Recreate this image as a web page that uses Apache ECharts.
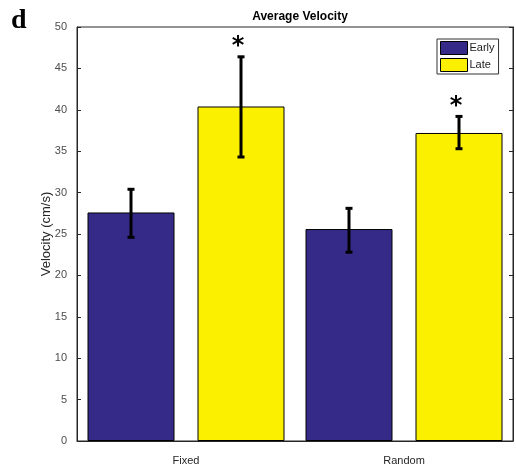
<!DOCTYPE html>
<html><head><meta charset="utf-8">
<script src="https://cdn.jsdelivr.net/npm/echarts@6/dist/echarts.min.js"></script>
<style>html,body{margin:0;padding:0;background:#fff}#c{width:516px;height:472px}</style>
</head><body><div id="c"></div>
<script>
var categories = ['Fixed', 'Random'];
var seriesNames = ['Early', 'Late'];
var earlyMean = [27.6, 25.6];
var earlyLow = [24.6, 22.8];
var earlyHigh = [30.4, 28.1];
var lateMean = [40.4, 37.2];
var lateLow = [34.3, 35.3];
var lateHigh = [46.4, 39.2];
var lateSignificant = [true, true];
var yTicks = [0, 5, 10, 15, 20, 25, 30, 35, 40, 45, 50];

var colors = ['#352a87', '#fbf000'];
var BAR_W = 87, GAP = 23;

function errSeries(low, high, sig, side) {
  var data = categories.map(function (c, i) { return [i, low[i], high[i], sig ? (sig[i] ? 1 : 0) : 0]; });
  return {
    type: 'custom', z: 10, silent: true,
    data: data,
    renderItem: function (params, api) {
      var i = api.value(0);
      var lo = api.coord([i, api.value(1)]);
      var hi = api.coord([i, api.value(2)]);
      var x = lo[0] + side * (BAR_W + GAP) / 2;
      var cap = 3.5;
      var st = { stroke: '#000', lineWidth: 3 };
      var children = [
        { type: 'line', shape: { x1: x, y1: lo[1], x2: x, y2: hi[1] }, style: st },
        { type: 'line', shape: { x1: x - cap, y1: lo[1], x2: x + cap, y2: lo[1] }, style: st },
        { type: 'line', shape: { x1: x - cap, y1: hi[1], x2: x + cap, y2: hi[1] }, style: st }
      ];
      if (api.value(3)) {
        children.push({ type: 'text', style: { text: '*', x: x - 3, y: hi[1] + 2, align: 'center', verticalAlign: 'bottom', font: 'bold 24px "DejaVu Sans"', fill: '#000' } });
      }
      return { type: 'group', children: children };
    }
  };
}

var chart = echarts.init(document.getElementById('c'));
chart.setOption({
  animation: false,
  backgroundColor: '#fff',
  title: {
    text: 'Average Velocity', left: 295, top: 6, textAlign: 'center',
    textStyle: { fontSize: 12, fontWeight: 'bold', color: '#000', fontFamily: 'Liberation Sans' }
  },
  graphic: [{ type: 'text', left: 11, top: 7, style: { text: 'd', font: 'bold 28px "Liberation Serif"', fill: '#000' } }],
  legend: {
    data: seriesNames, orient: 'vertical', left: 437, top: 39,
    icon: 'rect',
    itemWidth: 27, itemHeight: 13, itemGap: 3, padding: [2, 4, 2, 3],
    borderColor: '#333', borderWidth: 1, backgroundColor: '#fff', borderRadius: 0,
    textStyle: { fontSize: 11, color: '#222', fontFamily: 'Liberation Sans', padding: [0, 0, 0, -3] },
    itemStyle: { borderColor: '#000', borderWidth: 1 }
  },
  grid: { left: 77, top: 27, width: 436, height: 414, show: true, borderColor: '#262626', borderWidth: 1 },
  xAxis: {
    type: 'category', data: categories,
    axisLine: { lineStyle: { color: '#262626' } },
    axisTick: { show: false },
    axisLabel: { color: '#262626', fontSize: 11, fontFamily: 'Liberation Sans', margin: 14 }
  },
  yAxis: [{
    type: 'value', min: 0, max: 50, interval: 5,
    name: 'Velocity (cm/s)', nameLocation: 'middle', nameGap: 24, nameMoveOverlap: false,
    nameTextStyle: { fontSize: 13, color: '#262626', fontFamily: 'Liberation Sans' },
    axisLine: { show: true, lineStyle: { color: '#262626' } },
    axisTick: { show: true, inside: true, length: 4, lineStyle: { color: '#262626' } },
    axisLabel: { color: '#4d4d4d', fontSize: 11, fontFamily: 'Liberation Sans', margin: 10,
      formatter: function (v) { return yTicks.indexOf(v) >= 0 ? String(v) : ''; } },
    splitLine: { show: false }
  }, {
    type: 'value', min: 0, max: 50, interval: 5, position: 'right',
    axisLine: { show: true, lineStyle: { color: '#262626' } },
    axisTick: { show: true, inside: true, length: 4, lineStyle: { color: '#262626' } },
    axisLabel: { show: false }, splitLine: { show: false }
  }],
  series: [
    { name: seriesNames[0], type: 'bar', data: earlyMean, barWidth: BAR_W, barGap: (GAP / BAR_W * 100) + '%',
      itemStyle: { color: colors[0], borderColor: '#000', borderWidth: 1 } },
    { name: seriesNames[1], type: 'bar', data: lateMean, barWidth: BAR_W,
      itemStyle: { color: colors[1], borderColor: '#000', borderWidth: 1 } },
    errSeries(earlyLow, earlyHigh, null, -1),
    errSeries(lateLow, lateHigh, lateSignificant, 1)
  ]
});
</script></body></html>
